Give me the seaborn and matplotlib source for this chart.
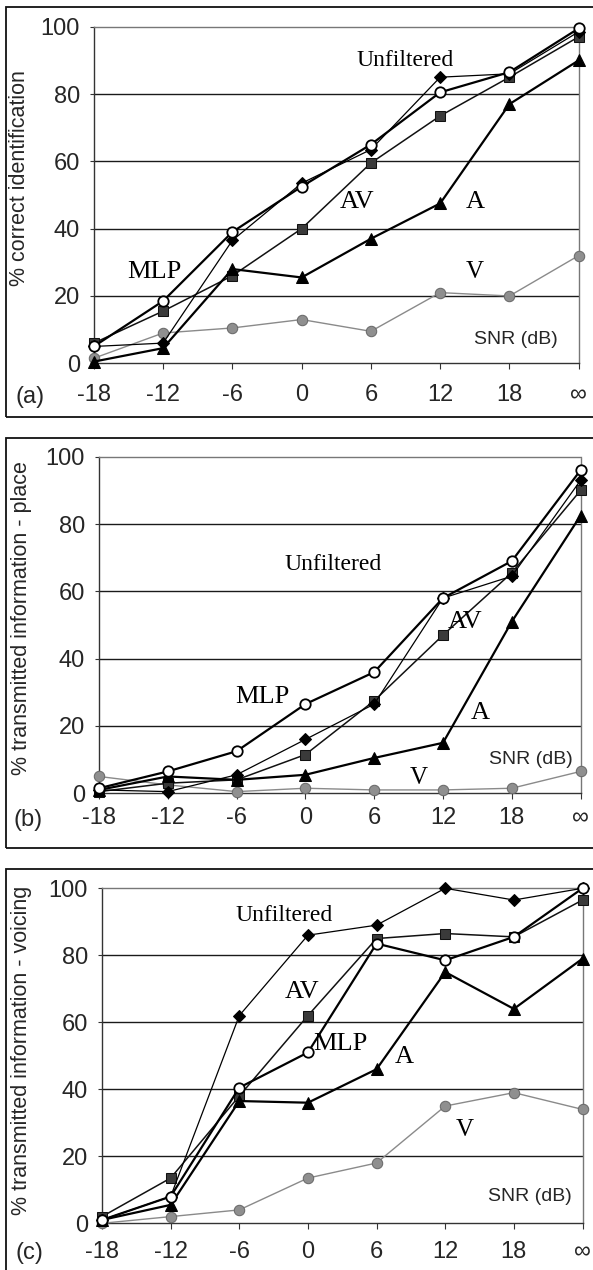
import matplotlib
matplotlib.use("Agg")
import matplotlib.pyplot as plt
from matplotlib.patches import Rectangle
import seaborn as sns
import pandas as pd

# ---------------- data ----------------
snr_labels = ["-18", "-12", "-6", "0", "6", "12", "18", "\u221e"]
series_names = ["V", "AV", "Unfiltered", "A", "MLP"]

# (a) % correct identification
a_unfiltered = [5, 6, 36.5, 53.5, 63.5, 85, 86, 98.5]
a_mlp = [5, 18.5, 39, 52.5, 65, 80.5, 86.5, 99.5]
a_av = [6, 15.5, 26, 40, 59.5, 73.5, 85, 97]
a_a = [0.5, 4.5, 28, 25.5, 37, 47.5, 77, 90]
a_v = [1.5, 9, 10.5, 13, 9.5, 21, 20, 32]

# (b) % transmitted information - place
b_unfiltered = [1, 0.5, 5.5, 16, 26.5, 58, 64.5, 93]
b_mlp = [1.5, 6.5, 12.5, 26.5, 36, 58, 69, 96]
b_av = [0.5, 3, 4, 11.5, 27.5, 47, 65.5, 90]
b_a = [1, 5, 4, 5.5, 10.5, 15, 51, 82.5]
b_v = [5, 2.5, 0.5, 1.5, 1, 1, 1.5, 6.5]

# (c) % transmitted information - voicing
c_unfiltered = [1, 8, 62, 86, 89, 100, 96.5, 100]
c_mlp = [1, 8, 40.5, 51, 83.5, 78.5, 85.5, 100]
c_av = [2, 13.5, 38, 62, 85, 86.5, 85.5, 96.5]
c_a = [1, 5.5, 36.5, 36, 46, 75, 64, 79]
c_v = [0, 2, 4, 13.5, 18, 35, 39, 34]

ylabels = ["% correct identification",
           "% transmitted information - place",
           "% transmitted information - voicing"]
tags = ["(a)", "(b)", "(c)"]
yticks = [0, 20, 40, 60, 80, 100]

# ---------------- style ----------------
sns.set_theme(style="white")
plt.rcParams["font.family"] = ["Liberation Sans", "DejaVu Sans"]
SERIF = ["Liberation Serif", "DejaVu Serif"]

W, H = 593, 1270
fig = plt.figure(figsize=(W / 100, H / 100), dpi=100)


def px_rect(left, right, y0, y100):
    return [left / W, 1 - y0 / H, (right - left) / W, (y0 - y100) / H]


styles = {
    "Unfiltered": dict(color="black", marker="D", markersize=6.5, linewidth=0.9,
                       markerfacecolor="black", markeredgecolor="black"),
    "MLP": dict(color="black", marker="o", markersize=7.5, linewidth=1.6,
                markerfacecolor="white", markeredgecolor="black", markeredgewidth=1.3),
    "AV": dict(color="#111111", marker="s", markersize=7, linewidth=1.1,
               markerfacecolor="#3a3a3a", markeredgecolor="#111111"),
    "A": dict(color="black", marker="^", markersize=9, linewidth=1.6,
              markerfacecolor="black", markeredgecolor="black"),
    "V": dict(color="#8a8a8a", marker="o", markersize=7.5, linewidth=1.0,
              markerfacecolor="#8f8f8f", markeredgecolor="#6a6a6a"),
}

panels = [
    dict(rect=px_rect(93.8, 578.7, 363.3, 26.7),
         data={"Unfiltered": a_unfiltered, "MLP": a_mlp, "AV": a_av, "A": a_a, "V": a_v},
         labels=[("Unfiltered", 4.49, 90.0, 17), ("AV", 3.8, 48, 19), ("A", 5.5, 48, 19),
                 ("MLP", 0.88, 27, 19), ("V", 5.5, 27, 18)],
         snr=(6.1, 7.0), ylab=(-0.132, 0.55), tag=(-0.132, -0.10), pad=11),
    dict(rect=px_rect(99, 580.6, 793.3, 456.7),
         data={"Unfiltered": b_unfiltered, "MLP": b_mlp, "AV": b_av, "A": b_a, "V": b_v},
         labels=[("Unfiltered", 3.4, 68, 17), ("AV", 5.32, 51, 19), ("A", 5.54, 24, 19),
                 ("MLP", 2.38, 28.5, 19), ("V", 4.64, 4.5, 18)],
         snr=(6.28, 10), ylab=(-0.139, 0.52), tag=(-0.147, -0.08), pad=6),
    dict(rect=px_rect(102, 582.5, 1223.3, 888.3),
         data={"Unfiltered": c_unfiltered, "MLP": c_mlp, "AV": c_av, "A": c_a, "V": c_v},
         labels=[("Unfiltered", 2.65, 92, 17), ("AV", 2.92, 69, 19), ("MLP", 3.47, 53.5, 19),
                 ("A", 4.41, 49.5, 19), ("V", 5.29, 28, 18)],
         snr=(6.23, 8), ylab=(-0.146, 0.515), tag=(-0.15, -0.09), pad=9),
]

frames_px = [(7, 417), (438, 848), (869, 1300)]
for top, bot in frames_px:
    fig.add_artist(Rectangle((6 / W, 1 - bot / H), 1.2, (bot - top) / H,
                             transform=fig.transFigure, fill=False,
                             edgecolor="#111111", linewidth=1.3))

xs = list(range(len(snr_labels)))

for i, p in enumerate(panels):
    ax = fig.add_axes(p["rect"])
    for y in [20, 40, 60, 80]:
        ax.axhline(y, color="#1a1a1a", linewidth=1.0, zorder=1)
    for name in series_names:
        df = pd.DataFrame({"x": xs, "y": p["data"][name]})
        sns.lineplot(data=df, x="x", y="y", ax=ax, clip_on=False, zorder=3,
                     **styles[name])
    ax.set_xlim(0, 7)
    ax.set_ylim(0, 100)
    ax.set_xticks(xs)
    ax.set_xticklabels(snr_labels)
    ax.set_yticks(yticks)
    ax.set_xlabel("")
    ax.set_ylabel(ylabels[i], fontsize=15.5)
    ax.yaxis.set_label_coords(*p["ylab"])
    ax.tick_params(axis="x", direction="out", length=4, width=0.8, color="#333333",
                   pad=p["pad"], labelsize=17, bottom=True)
    ax.tick_params(axis="y", direction="out", length=3, width=0.8, color="#333333",
                   pad=7, labelsize=17, left=True)
    for side in ["top", "right"]:
        ax.spines[side].set_visible(True)
        ax.spines[side].set_linestyle((0, (1, 1)))
        ax.spines[side].set_color("#777777")
        ax.spines[side].set_linewidth(1.0)
    ax.spines["left"].set_color("#333333")
    ax.spines["left"].set_linewidth(1.0)
    ax.spines["bottom"].set_color("#333333")
    ax.spines["bottom"].set_linewidth(1.0)
    for text, x, y, fs in p["labels"]:
        ax.text(x, y, text, family=SERIF, fontsize=fs, ha="center", va="center",
                color="black", zorder=5)
    ax.text(p["snr"][0], p["snr"][1], "SNR (dB)", fontsize=14, ha="center",
            va="center", zorder=5)
    ax.text(p["tag"][0], p["tag"][1], tags[i], transform=ax.transAxes, fontsize=17,
            ha="center", va="center")

fig.savefig("out.png", dpi=100)
